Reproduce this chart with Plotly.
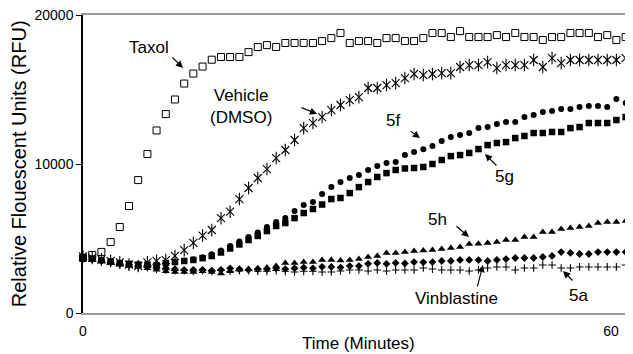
import plotly.graph_objects as go

# sampling times (minutes), one read about every 1.045 min
times = [0, 1.05, 2.09, 3.14, 4.18, 5.23, 6.27, 7.32, 8.36, 9.41,
         10.45, 11.50, 12.54, 13.59, 14.63, 15.68, 16.72, 17.77, 18.81, 19.86,
         20.90, 21.95, 22.99, 24.04, 25.08, 26.13, 27.17, 28.22, 29.26, 30.31,
         31.35, 32.40, 33.44, 34.49, 35.53, 36.58, 37.62, 38.67, 39.71, 40.76,
         41.80, 42.85, 43.89, 44.94, 45.98, 47.03, 48.07, 49.12, 50.16, 51.21,
         52.25, 53.30, 54.34, 55.39, 56.43, 57.48, 58.52, 59.57, 60.61, 61.66,
         62.70]

taxol = [3700, 3900, 4100, 4760, 5770, 7180, 8920, 10670, 12250, 13350,
         14330, 15400, 16070, 16540, 17000, 17180, 17180, 17180, 17510, 17850,
         17980, 17850, 18120, 18120, 18120, 18120, 18250, 18450, 18790, 18120,
         18250, 18250, 18120, 18450, 18450, 18250, 18250, 18450, 18790, 18790,
         18520, 18920, 18520, 18520, 18520, 18650, 18520, 18790, 18520, 18520,
         18320, 18520, 18520, 18790, 18790, 18790, 18520, 18650, 18320, 18520]

vehicle = [3800, 3700, 3600, 3500, 3400, 3250, 3150, 3400, 3500, 3550,
           3830, 4220, 4700, 5200, 5570, 6370, 6800, 7650, 8390, 9060,
           9660, 10400, 10940, 11610, 12410, 12750, 13150, 13620, 13960, 14290,
           14490, 15100, 15100, 15300, 15430, 15770, 16040, 15970, 16040, 16100,
           16100, 16510, 16640, 16640, 16840, 16440, 16640, 16640, 16640, 16980,
           16510, 17110, 16770, 16980, 16980, 16980, 16980, 16980, 16980, 17110]

c5f = [3750, 3650, 3550, 3450, 3350, 3300, 3250, 3200, 3250, 3300,
       3400, 3500, 3600, 3750, 3950, 4200, 4500, 4800, 5100, 5400,
       5770, 6110, 6370, 6840, 7250, 7450, 7990, 8450, 8790, 9060,
       9260, 9600, 9860, 10070, 10130, 10600, 10800, 10990, 11210, 11540,
       11810, 11940, 12080, 12410, 12480, 12680, 12820, 12820, 13150, 13290,
       13490, 13550, 13690, 13690, 13820, 13890, 13890, 13820, 14360, 14090,
       14290]

c5g = [3700, 3650, 3550, 3450, 3350, 3300, 3250, 3250, 3200, 3350,
       3420, 3490, 3560, 3680, 3820, 4060, 4330, 4600, 4900, 5170,
       5500, 5840, 6040, 6370, 6710, 6980, 7280, 7650, 7720, 8050,
       8450, 8790, 9130, 9390, 9600, 9700, 9730, 9800, 10000, 10270,
       10530, 10600, 10740, 11000, 11270, 11410, 11470, 11740, 11880, 12080,
       12080, 12150, 12150, 12410, 12480, 12750, 12750, 12750, 12950, 13150]

c5h = [3700, 3600, 3450, 3350, 3250, 3150, 3100, 3000, 2900, 2800,
       2750, 2750, 2750, 2800, 2750, 2650, 2800, 2900, 2950, 3000,
       3050, 3150, 3360, 3360, 3420, 3420, 3560, 3560, 3520, 3560,
       3620, 3760, 3830, 4030, 4030, 4090, 4160, 4190, 4230, 4290,
       4360, 4430, 4630, 4650, 4700, 4760, 4900, 4900, 5100, 5100,
       5430, 5430, 5640, 5700, 5770, 5840, 6040, 6110, 6110, 6170,
       6370]

vinblastine = [3700, 3600, 3500, 3400, 3300, 3250, 3150, 3100, 3050, 3000,
               2950, 2900, 2900, 2900, 2850, 2900, 3000, 2950, 2900, 2950,
               2950, 3000, 2950, 3000, 3050, 3000, 3100, 3090, 3050, 3150,
               3150, 3300, 3360, 3300, 3360, 3330, 3420, 3400, 3420, 3490,
               3490, 3560, 3560, 3550, 3490, 3560, 3620, 3690, 3690, 3690,
               3760, 3830, 4090, 4030, 3960, 3960, 4090, 4090, 4090, 4090,
               4030]

c5a = [3700, 3600, 3450, 3350, 3250, 3150, 3100, 3050, 2950, 2900,
       2850, 2850, 2800, 2850, 2800, 2850, 2800, 2850, 2850, 2800,
       2800, 2850, 2800, 2750, 2800, 2800, 2750, 2750, 2820, 2890,
       2890, 2820, 2890, 2820, 2890, 2890, 2890, 3020, 2950, 2890,
       2890, 2890, 2820, 2890, 3020, 3090, 3090, 2890, 3020, 3020,
       3220, 3220, 3020, 3020, 3090, 3090, 3090, 3090, 3090, 3220,
       3220]

x_ticks = [0, 60]
y_ticks = [0, 10000, 20000]

FONT = "Liberation Sans, Arial, sans-serif"
BLACK = "#000000"

fig = go.Figure()


def add(vals, symbol, size, lw=0, name=""):
    fig.add_trace(go.Scatter(
        x=times[:len(vals)], y=vals, mode="markers", name=name,
        cliponaxis=False,
        marker=dict(symbol=symbol, size=size, color=BLACK,
                    line=dict(color=BLACK, width=lw)),
        showlegend=False, hoverinfo="skip"))


add(c5a, "cross-thin-open", 5.5, 1.1, "5a")
add(vinblastine, "diamond", 6, 0, "Vinblastine")
add(c5h, "triangle-up", 7, 0, "5h")
add(c5g, "square", 6.5, 0, "5g")
add(c5f, "circle", 6, 0, "5f")
add(vehicle, "x-thin-open", 8, 1.1, "Vehicle (DMSO)")
add(vehicle, "line-ns-open", 9, 1.1, "Vehicle (DMSO)")
add(taxol, "square-open", 7, 1, "Taxol")

# labels (text) and arrows
labels = [
    ("Taxol", 7.5, 17852),
    ("Vehicle<br>(DMSO)", 17.95, 13826),
    ("5f", 35.23, 12953),
    ("5g", 47.95, 9128),
    ("5h", 40.34, 6242),
    ("Vinblastine", 42.39, 940),
    ("5a", 56.36, 1208),
]
for txt, x, y in labels:
    fig.add_annotation(x=x, y=y, text=txt, showarrow=False,
                       font=dict(family=FONT, size=17, color=BLACK),
                       xanchor="center", yanchor="middle")

arrows = [
    (11.36, 16443, -12, -12),
    (26.59, 13356, -17, -7),
    (38.30, 11745, -11, -8),
    (45.68, 10671, 13, 13),
    (43.86, 5101, -14, -12),
    (45.45, 3221, -6, 23),
    (54.55, 2819, 11, 11),
]
for x, y, ax, ay in arrows:
    fig.add_annotation(x=x, y=y, ax=ax, ay=ay, text="", showarrow=True,
                       arrowhead=2, arrowsize=1.3, arrowwidth=1.1,
                       arrowcolor=BLACK, standoff=0)

# axis titles
fig.add_annotation(xref="paper", yref="paper", x=0.5, y=-0.104,
                   text="Time (Minutes)", showarrow=False,
                   font=dict(family=FONT, size=17, color=BLACK),
                   xanchor="center", yanchor="middle")
fig.add_annotation(xref="paper", yref="paper", x=-0.116, y=0.5,
                   text="Relative Flouescent Units (RFU)", showarrow=False,
                   textangle=-90,
                   font=dict(family=FONT, size=20, color=BLACK),
                   xanchor="center", yanchor="middle")

# the page body adds an 8px offset, so the figure is 8px smaller than the window
fig.update_layout(
    width=625, height=346,
    margin=dict(l=75, r=0, t=7, b=41),
    paper_bgcolor="white", plot_bgcolor="white",
    font=dict(family=FONT, color=BLACK),
    xaxis=dict(range=[0, 62.5], tickvals=x_ticks, ticktext=[str(v) for v in x_ticks],
               showgrid=False, zeroline=False,
               showline=True, linecolor="#9a9a9a", linewidth=1.5, mirror=True,
               ticks="outside", ticklen=4, tickcolor="rgba(0,0,0,0)",
               ticklabeloverflow="allow",
               tickfont=dict(family=FONT, size=14, color=BLACK)),
    yaxis=dict(range=[0, 20000], tickvals=y_ticks, ticktext=[str(v) for v in y_ticks],
               showgrid=False, zeroline=False,
               showline=True, linecolor=BLACK, linewidth=1.5,
               ticks="outside", ticklen=5, tickcolor=BLACK, tickwidth=1,
               ticklabeloverflow="allow",
               tickfont=dict(family=FONT, size=14, color=BLACK)),
)

fig.write_html("out.html")
